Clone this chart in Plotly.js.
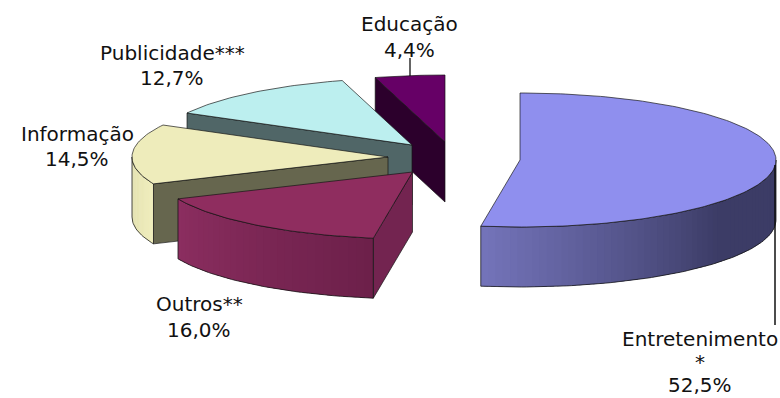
<!DOCTYPE html>
<html><head><meta charset="utf-8">
<script src="https://cdn.plot.ly/plotly-3.0.1.min.js"></script>
<style>html,body{margin:0;padding:0;background:#fff}#chart{width:780px;height:398px}</style>
</head><body><div id="chart"></div>
<script>
// Data
var categories = ['Entretenimento', 'Outros', 'Informação', 'Publicidade', 'Educação'];
var labelLines = [['Entretenimento','*'], ['Outros**'], ['Informação'], ['Publicidade***'], ['Educação']];
var values = [52.5, 16.0, 14.5, 12.7, 4.4];

// Style
var topColors = ['#8f8fee', '#8f2d5f', '#eeecbb', '#bcefef', '#660066'];
var faceColors = ['#3c3c66', '#732450', '#66664e', '#506667', '#2c002c'];
var wallFrom = [[116,116,186], [140,46,96], [222,220,168], [188,239,239], [102,0,102]];
var wallTo = [[60,60,102], [108,32,74], [240,238,190], [188,239,239], [102,0,102]];
var centersX = [520, 412.5, 388, 412, 445];
var centersY = [160, 172, 157, 145, 142];
var labelX = [700, 199, 77, 172, 409];
var labelY = [[339,362,385], [304,330], [134,159], [53,78], [24,50]];
var RX = 256, RY = 67, DEPTH = 60, OUTLINE = 'rgba(20,20,20,0.85)';

var total = values.reduce(function(a,b){return a+b;},0);
var traces = [], cum = 0;
var angles = values.map(function(v){var s=cum; cum+=v; return [s/total*2*Math.PI, cum/total*2*Math.PI];});

function pt(i,a,d){return [centersX[i]+RX*Math.sin(a), centersY[i]-RY*Math.cos(a)+(d||0)];}
function arc(i,a0,a1,d){var n=Math.max(2,Math.ceil(Math.abs(a1-a0)/0.02)),o=[];
  for(var k=0;k<=n;k++){o.push(pt(i,a0+(a1-a0)*k/n,d));} return o;}
function poly(points,fill,line,width){
  traces.push({type:'scatter',mode:'lines',x:points.map(function(p){return p[0];}),y:points.map(function(p){return p[1];}),
    fill:fill?'toself':'none',fillcolor:fill||undefined,line:{color:line,width:width},hoverinfo:'skip',showlegend:false});
}
function mix(a,b,t){return 'rgb('+a.map(function(v,j){return Math.round(v+(b[j]-v)*t);}).join(',')+')';}

// painter's order: back slices first
for(var i=values.length-1;i>=0;i--){
  var a0=angles[i][0],a1=angles[i][1];
  var c=[centersX[i],centersY[i]], cb=[c[0],c[1]+DEPTH];
  // start radial face
  if(a0>Math.PI && a0<2*Math.PI){
    var p=pt(i,a0),q=pt(i,a0,DEPTH);
    poly([c,p,q,cb,c],faceColors[i],OUTLINE,0.8);
  }
  // outer wall (front half only), shaded in strips
  var w0=Math.max(a0,Math.PI/2), w1=Math.min(a1,3*Math.PI/2);
  if(w1>w0){
    var strips=i===0?60:30;
    for(var s=0;s<strips;s++){
      var b0=w0+(w1-w0)*s/strips,b1=w0+(w1-w0)*(s+1.6)/strips;
      if(b1>w1){b1=w1;}
      var t=1-(s+0.5)/strips; if(i===0){t=Math.min(1,t/0.6);}
      var col=mix(wallFrom[i],wallTo[i],t);
      poly(arc(i,b0,b1,0).concat(arc(i,b1,b0,DEPTH)).concat([pt(i,b0)]),col,'rgba(0,0,0,0)',0);
    }
    poly(arc(i,w0,w1,0).concat(arc(i,w1,w0,DEPTH)).concat([pt(i,w0)]),null,OUTLINE,0.9);
  }
  // top face
  poly([c].concat(arc(i,a0,a1,0)).concat([c]),topColors[i],OUTLINE,0.8);
}
// leader lines
poly([[410,58],[410,76]],null,'#111',1.3);
poly([[775,165],[775,325]],null,'#111',1.5);

var annotations=[];
var fmt=function(v){return v.toFixed(1).replace('.',',')+'%';};
categories.forEach(function(cat,i){
  labelLines[i].concat([fmt(values[i])]).forEach(function(txt,k){
    annotations.push({x:labelX[i],y:labelY[i][k],xref:'x',yref:'y',text:txt,showarrow:false,borderpad:0,
      xanchor:'center',yanchor:'middle',font:{family:'"DejaVu Sans",Verdana,sans-serif',size:20,color:'#111'}});
  });
});

Plotly.newPlot('chart',traces,{
  width:780,height:398,margin:{l:0,r:0,t:0,b:0},paper_bgcolor:'#fff',plot_bgcolor:'#fff',showlegend:false,
  xaxis:{range:[0,780],visible:false,fixedrange:true},
  yaxis:{range:[398,0],visible:false,fixedrange:true},
  annotations:annotations
},{displayModeBar:false,staticPlot:true});
</script></body></html>
